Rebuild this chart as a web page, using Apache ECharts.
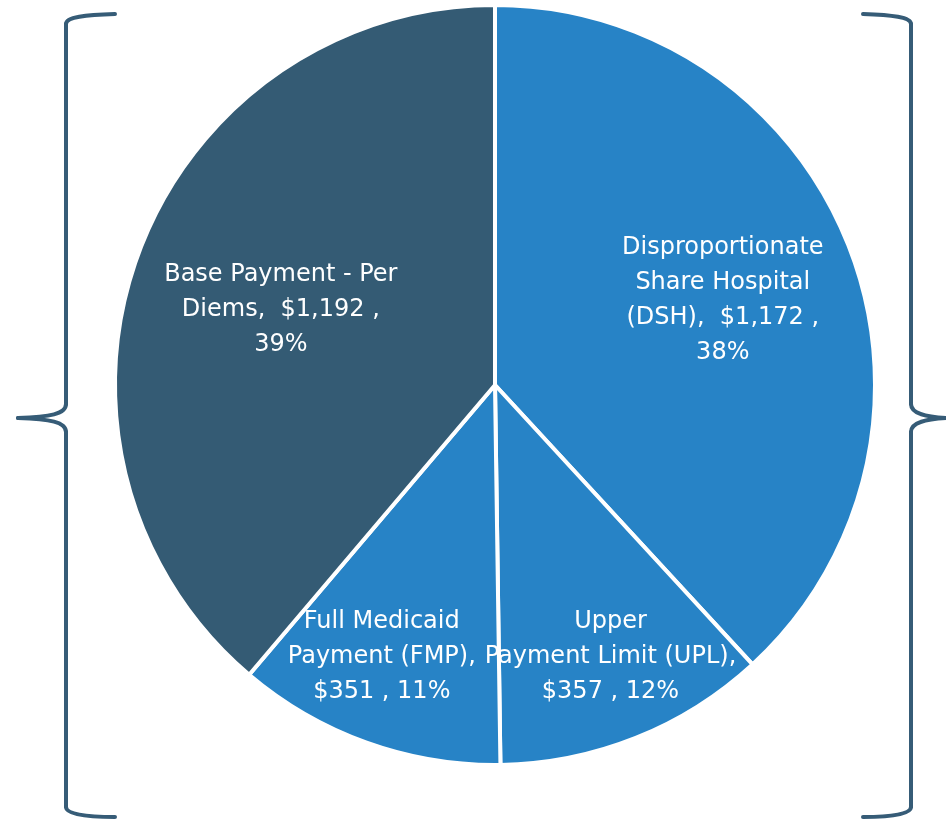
<!DOCTYPE html>
<html><head><meta charset="utf-8">
<script src="https://cdn.jsdelivr.net/npm/echarts@6/dist/echarts.min.js"></script>
<style>html,body{margin:0;padding:0;background:#fff}#c{width:946px;height:820px}</style>
</head><body><div id="c"></div>
<script>
const categories = ['Disproportionate Share Hospital (DSH)', 'Upper Payment Limit (UPL)', 'Full Medicaid Payment (FMP)', 'Base Payment - Per Diems'];
const values = [1172, 357, 351, 1192];
const colors = ['#2783C6', '#2783C6', '#2783C6', '#345B74'];
// label line breaks as in the original chart
const labelTemplates = [
  'Disproportionate\nShare Hospital\n(DSH),  {v} ,\n{p}',
  'Upper\nPayment Limit (UPL),\n{v} , {p}',
  'Full Medicaid\nPayment (FMP),\n{v} , {p}',
  'Base Payment - Per\nDiems,  {v} ,\n{p}'
];
const labelOffsets = [[48, -15], [44, 92], [-48, 90], [-33, -9]];

const chart = echarts.init(document.getElementById('c'));
const fmt = v => '$' + v.toLocaleString('en-US');
const braceColor = '#365C77';
const st = { fill: 'none', stroke: braceColor, lineWidth: 4, lineCap: 'round' };
function brace(xv, xa, xt, yTop, yMid, yBot) {
  const d = Math.sign(xa - xv); // direction of arms
  const t = Math.sign(xt - xv);
  const bz = (x1, y1, cx1, cy1, cx2, cy2, x2, y2) => ({ type: 'bezierCurve', shape: { x1, y1, cpx1: cx1, cpy1: cy1, cpx2: cx2, cpy2: cy2, x2, y2 }, style: st, silent: true });
  const ln = (x1, y1, x2, y2) => ({ type: 'line', shape: { x1, y1, x2, y2 }, style: st, silent: true });
  return [
    bz(xa, yTop, xv + d * 19, yTop + 1, xv, yTop + 3, xv, yTop + 10),
    ln(xv, yTop + 10, xv, yMid - 14),
    bz(xv, yMid - 14, xv, yMid - 4, xv + t * 16, yMid - 1, xt, yMid),
    bz(xt, yMid, xv + t * 16, yMid + 1, xv, yMid + 4, xv, yMid + 14),
    ln(xv, yMid + 14, xv, yBot - 10),
    bz(xv, yBot - 10, xv, yBot - 3, xv + d * 19, yBot, xa, yBot)
  ];
}
chart.setOption({
  animation: false,
  series: [{
    type: 'pie',
    center: [495, 385],
    radius: [0, 380],
    startAngle: 90,
    clockwise: true,
    avoidLabelOverlap: false,
    labelLayout: { hideOverlap: false },
    data: categories.map((n, i) => ({
      name: n, value: values[i],
      itemStyle: { color: colors[i] },
      label: { offset: labelOffsets[i] }
    })),
    itemStyle: { borderColor: '#ffffff', borderWidth: 4 },
    label: {
      show: true, position: 'inside', color: '#ffffff',
      fontFamily: '"DejaVu Sans", sans-serif', fontSize: 24, lineHeight: 35, align: 'center',
      formatter: p => labelTemplates[p.dataIndex].replace('{v}', fmt(p.value)).replace('{p}', Math.round(p.percent) + '%')
    },
    labelLine: { show: false },
    emphasis: { disabled: true }
  }],
  graphic: brace(66, 115, 18, 14, 418, 817).concat(brace(911, 863, 946, 14, 418, 817))
});
</script></body></html>
